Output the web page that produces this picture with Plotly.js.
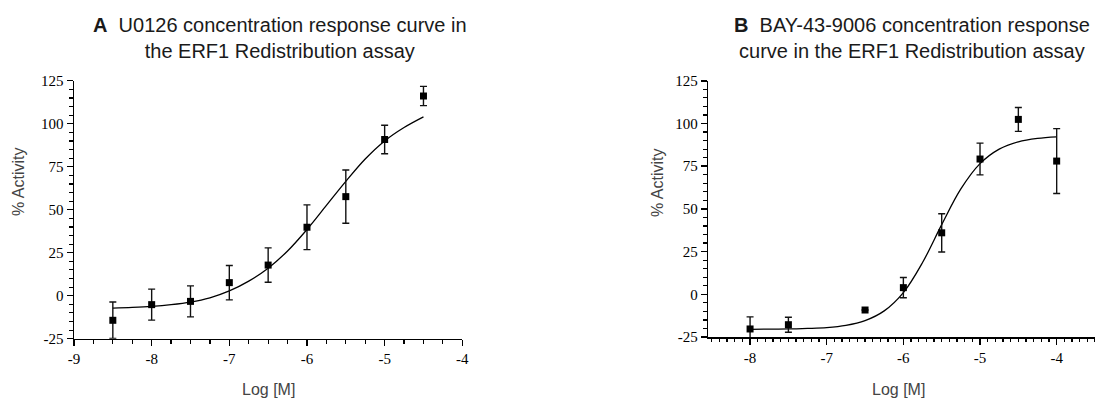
<!DOCTYPE html>
<html>
<head>
<meta charset="utf-8">
<script src="https://cdn.plot.ly/plotly-3.0.1.min.js"></script>
<style>html,body{margin:0;padding:0;background:#fff;}#chart{width:1095px;height:399px;}</style>
</head>
<body>
<div id="chart"></div>
<script>
// Panel A: U0126
const xA = [-8.5, -8, -7.5, -7, -6.5, -6, -5.5, -5, -4.5];
const yA = [-14.3, -5.2, -3.3, 7.6, 17.8, 39.8, 57.6, 90.8, 116.1];
const errA = [10.6, 9, 9, 10, 10, 13, 15.5, 8.3, 5.6];
const curveXA = [-8.5, -8.25, -8, -7.75, -7.5, -7.25, -7, -6.75, -6.5, -6.25, -6, -5.75, -5.5, -5.25, -5, -4.75, -4.5];
const curveYA = [-7.2, -6.8, -6.2, -5.2, -3.7, -1.2, 2.8, 8.5, 16, 26, 38.5, 52.5, 66.5, 79.5, 90, 97.8, 104];

// Panel B: BAY-43-9006
const xB = [-8, -7.5, -6.5, -6, -5.5, -5, -4.5, -4];
const yB = [-20.3, -17.8, -9.2, 3.9, 36, 79.2, 102.4, 78];
const errB = [7.1, 4.4, 0, 5.9, 11.2, 9.3, 7, 19];
const curveXB = [-8, -7.75, -7.5, -7.25, -7, -6.75, -6.5, -6.25, -6, -5.75, -5.5, -5.25, -5, -4.75, -4.5, -4.25, -4];
const curveYB = [-20.5, -20.4, -20.3, -20, -19.5, -18.2, -15.4, -9.7, 1, 18.6, 40.8, 61.7, 76.5, 85, 89.3, 91.3, 92.2];

// Tick labels
const yTickVals = [-25, 0, 25, 50, 75, 100, 125];
const yTickText = ['-25', '0', '25', '50', '75', '100', '125'];
const xTickValsA = [-9, -8, -7, -6, -5, -4];
const xTickTextA = ['-9', '-8', '-7', '-6', '-5', '-4'];
const xTickValsB = [-8, -7, -6, -5, -4];
const xTickTextB = ['-8', '-7', '-6', '-5', '-4'];

const titleA = '<b>A</b>  U0126 concentration response curve in<br>the ERF1 Redistribution assay';
const titleB = '<b>B</b>  BAY-43-9006 concentration response<br>curve in the ERF1 Redistribution assay';

const W = 1095, H = 399;
const px = v => v / W;
const py = v => 1 - v / H;

const serif = 'Liberation Serif, Times New Roman, serif';
const sans = 'Liberation Sans, Arial, sans-serif';

const markerStyle = {symbol: 'square', size: 7, color: '#000'};
const errStyle = (arr) => ({type: 'data', array: arr, visible: true, color: '#111', thickness: 1.4, width: 3.5});

const traces = [
  {x: curveXA, y: curveYA, mode: 'lines', line: {color: '#000', width: 1.3, shape: 'spline', smoothing: 1}, xaxis: 'x', yaxis: 'y', hoverinfo: 'skip'},
  {x: xA, y: yA, mode: 'markers', marker: markerStyle, error_y: errStyle(errA), xaxis: 'x', yaxis: 'y', cliponaxis: false},
  {x: curveXB, y: curveYB, mode: 'lines', line: {color: '#000', width: 1.3, shape: 'spline', smoothing: 1}, xaxis: 'x2', yaxis: 'y2', hoverinfo: 'skip'},
  {x: xB, y: yB, mode: 'markers', marker: markerStyle, error_y: errStyle(errB), xaxis: 'x2', yaxis: 'y2', cliponaxis: false}
];

function makeAxis(extra) {
  return Object.assign({
    showline: true, linecolor: '#000', linewidth: 1.5, showgrid: false, zeroline: false,
    ticks: 'outside', ticklen: 6, tickwidth: 1.5, tickcolor: '#000',
    tickfont: {family: serif, size: 15, color: '#000'},
    tickmode: 'array', fixedrange: true
  }, extra);
}
function minorTicks(tick0, dtick) {
  return {ticks: 'outside', tickmode: 'linear', tick0: tick0, dtick: dtick, ticklen: 3.5, tickwidth: 1.2, tickcolor: '#000', showgrid: false};
}

const layout = {
  width: W, height: H,
  margin: {l: 0, r: 0, t: 0, b: 0},
  paper_bgcolor: '#fff', plot_bgcolor: '#fff',
  font: {family: serif, size: 15, color: '#000'},
  showlegend: false,
  xaxis: makeAxis({domain: [px(74), px(462.3)], range: [-9, -4], anchor: 'y',
    tickvals: xTickValsA, ticktext: xTickTextA, minor: minorTicks(-9, 0.25)}),
  yaxis: makeAxis({domain: [1 - 338.7 / H, 1 - 80.7 / H], anchor: 'x', range: [-25, 125],
    tickvals: yTickVals, ticktext: yTickText, minor: minorTicks(0, 5)}),
  xaxis2: makeAxis({domain: [px(708.3), 1], range: [-8.545, -3.5], anchor: 'y2',
    tickvals: xTickValsB, ticktext: xTickTextB, minor: minorTicks(-8, 0.1)}),
  yaxis2: makeAxis({domain: [1 - 337 / H, 1 - 80.8 / H], anchor: 'x2', range: [-25, 125],
    tickvals: yTickVals, ticktext: yTickText, minor: minorTicks(0, 5)}),
  annotations: [
    {text: titleA, xref: 'paper', yref: 'paper', x: px(280), y: py(38), xanchor: 'center', yanchor: 'middle', showarrow: false, align: 'center',
     font: {family: sans, size: 20, color: '#1a1a1a'}},
    {text: titleB, xref: 'paper', yref: 'paper', x: px(912), y: py(38), xanchor: 'center', yanchor: 'middle', showarrow: false, align: 'center',
     font: {family: sans, size: 20, color: '#1a1a1a'}},
    {text: '% Activity', xref: 'paper', yref: 'paper', x: px(18), y: py(182), textangle: -90, xanchor: 'center', yanchor: 'middle', showarrow: false,
     font: {family: sans, size: 16, color: '#444'}},
    {text: '% Activity', xref: 'paper', yref: 'paper', x: px(657), y: py(183), textangle: -90, xanchor: 'center', yanchor: 'middle', showarrow: false,
     font: {family: sans, size: 16, color: '#444'}},
    {text: 'Log [M]', xref: 'paper', yref: 'paper', x: px(268), y: py(389), xanchor: 'center', yanchor: 'middle', showarrow: false,
     font: {family: sans, size: 16, color: '#444'}},
    {text: 'Log [M]', xref: 'paper', yref: 'paper', x: px(898), y: py(389), xanchor: 'center', yanchor: 'middle', showarrow: false,
     font: {family: sans, size: 16, color: '#444'}}
  ]
};

Plotly.newPlot('chart', traces, layout, {staticPlot: true, displayModeBar: false});
</script>
</body>
</html>
